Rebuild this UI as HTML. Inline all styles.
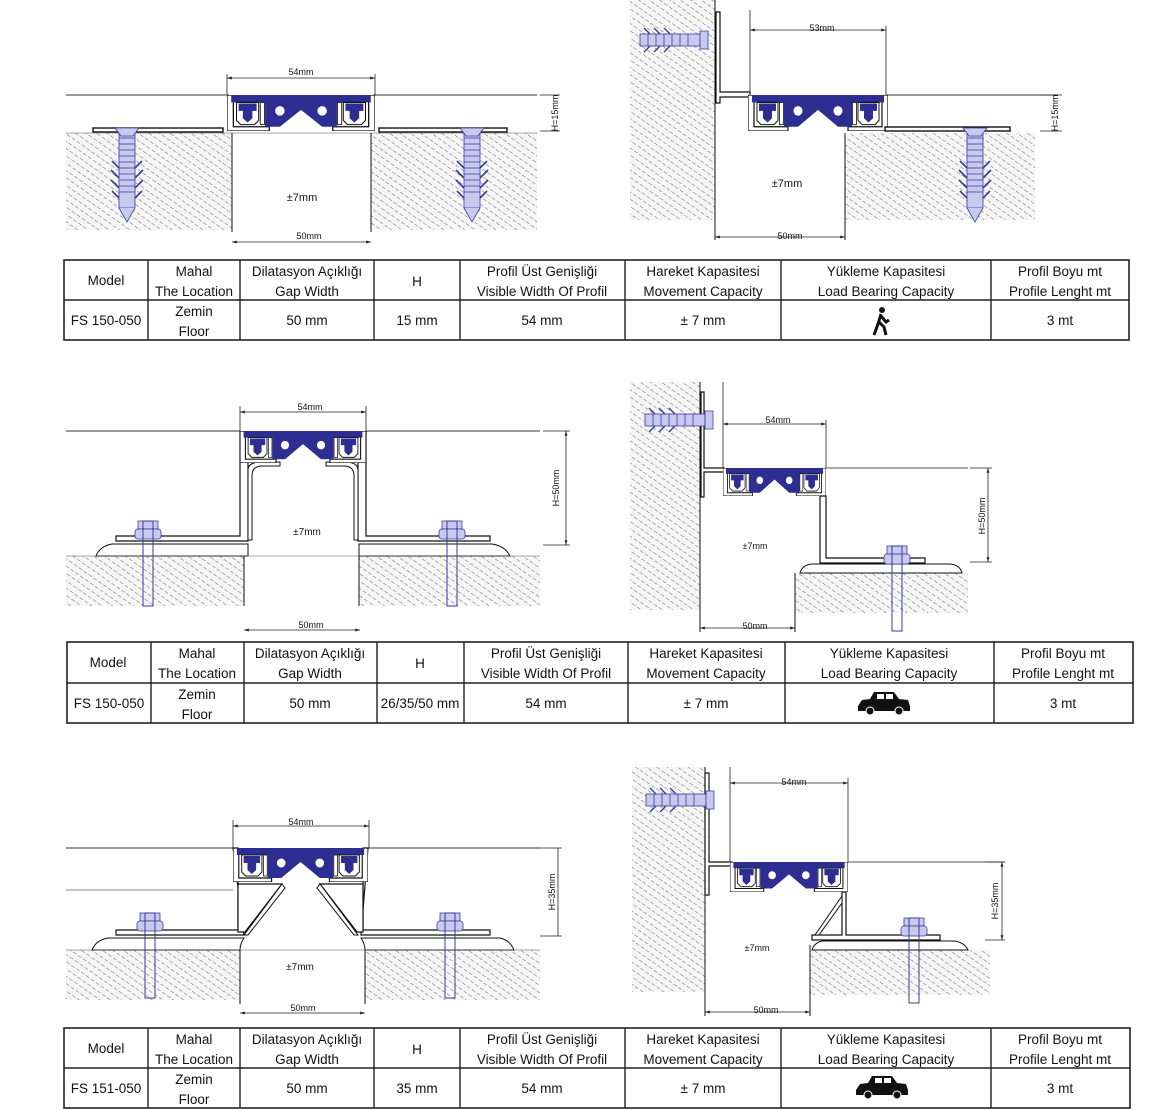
<!DOCTYPE html>
<html><head><meta charset="utf-8"><style>
html,body{margin:0;padding:0;background:#fff;}
svg{display:block;}
.t{font-family:"Liberation Sans",sans-serif;fill:#111;}
.tb{font-family:"Liberation Sans",sans-serif;fill:#111;font-size:13.5px;text-anchor:middle;}
.d{font-family:"Liberation Sans",sans-serif;fill:#111;font-size:9px;text-anchor:middle;}
.dim{stroke:#222;stroke-width:0.8;fill:none;}
.ol{stroke:#111;stroke-width:1.4;fill:#fff;}
.bl{fill:#2d2d92;}
.sc{fill:#c9c9ee;stroke:#3a3aa0;stroke-width:0.8;}
</style></head><body>
<svg width="1165" height="1110" viewBox="0 0 1165 1110" xmlns="http://www.w3.org/2000/svg">
<defs>
<pattern id="h" width="6" height="6" patternUnits="userSpaceOnUse" patternTransform="rotate(-55)">
<rect width="6" height="6" fill="#f6f6f6"/>
<line x1="0" y1="0" x2="0" y2="4" stroke="#555" stroke-width="0.9"/>
</pattern>
<symbol id="prof" viewBox="0 0 140 34" preserveAspectRatio="none">
<path d="M0,0 L140,0 L140,34 L100,34 L100,30 L134,30 L134,6 L6,6 L6,30 L40,30 L40,34 L0,34 Z" fill="#fff" stroke="#111" stroke-width="1.2"/>
<rect x="4" y="0" width="132" height="7" class="bl"/>
<path d="M36,6 L104,6 L104,30 L90,30 L70,14 L50,30 L36,30 Z" class="bl"/>
<circle cx="50" cy="15" r="4.5" fill="#fff"/><circle cx="90" cy="15" r="4.5" fill="#fff"/>
<path d="M9,7 L30,7 L30,24 L26,28 L13,28 L9,24 Z" fill="#fff" stroke="#111" stroke-width="1"/>
<path d="M11,8 L28,8 L28,15 L24,15 L24,22 L19.5,26 L15,22 L15,15 L11,15 Z" class="bl"/>
<path d="M110,7 L131,7 L131,24 L127,28 L114,28 L110,24 Z" fill="#fff" stroke="#111" stroke-width="1"/>
<path d="M112,8 L129,8 L129,15 L125,15 L125,22 L120.5,26 L116,22 L116,15 L112,15 Z" class="bl"/>
<rect x="31.5" y="7" width="4" height="21" fill="#fff" stroke="#111" stroke-width="0.8"/>
<rect x="104.5" y="7" width="4" height="21" fill="#fff" stroke="#111" stroke-width="0.8"/>
</symbol>
<g id="anchorV">
<rect x="-8" y="0" width="16" height="80" class="sc"/>
<path d="M-8,10 h16 M-8,16 h16 M-8,22 h16 M-8,28 h16 M-8,34 h16 M-8,40 h16 M-8,46 h16 M-8,52 h16 M-8,58 h16 M-8,64 h16" stroke="#3a3aa0" stroke-width="0.8"/>
<path d="M-12,0 L12,0 L6,8 L-6,8 Z" class="sc"/>
<path d="M-8,40 l-7,-7 M-8,50 l-8,-8 M-8,60 l-8,-8 M-8,70 l-7,-7 M8,40 l7,-7 M8,50 l8,-8 M8,60 l8,-8 M8,70 l7,-7" stroke="#3a3aa0" stroke-width="1.6"/>
<path d="M-8,80 L0,94 L8,80" class="sc"/>
</g>
<g id="bolt">
<rect x="-10" y="0" width="20" height="8" class="sc"/>
<rect x="-13" y="8" width="26" height="10" rx="3" class="sc"/>
<rect x="-5" y="0" width="10" height="85" fill="none" stroke="#3a3aa0" stroke-width="1"/>
</g>
<g id="anchorH">
<rect x="0" y="-6" width="60" height="12" class="sc"/>
<path d="M8,-6 v12 M16,-6 v12 M24,-6 v12 M32,-6 v12 M40,-6 v12 M48,-6 v12" stroke="#3a3aa0" stroke-width="0.8"/>
<path d="M60,-9 L68,-9 L68,9 L60,9 Z" class="sc"/>
<path d="M10,-6 l-6,-6 M20,-6 l-6,-6 M30,-6 l-6,-6 M10,6 l-6,6 M20,6 l-6,6 M30,6 l-6,6" stroke="#3a3aa0" stroke-width="1.4"/>
</g>
<marker id="a" viewBox="0 0 10 10" refX="10" refY="5" markerWidth="6" markerHeight="6" orient="auto-start-reverse"><path d="M0,2 L10,5 L0,8 Z" fill="#222"/></marker>
<g id="car"><path d="M0,14 L4,8 L12,7 L16,0 L36,0 L41,7 L50,8 L52,14 L52,19 L0,19 Z" fill="#111"/><rect x="19" y="2" width="7" height="5" fill="#fff"/><rect x="28" y="2" width="7" height="5" fill="#fff"/><circle cx="12" cy="19" r="4" fill="#111" stroke="#fff"/><circle cx="41" cy="19" r="4" fill="#111" stroke="#fff"/></g>
</defs>

<!-- ===== Drawing 1 ===== -->
<rect x="66" y="133" width="166" height="97" fill="url(#h)"/>
<rect x="371" y="133" width="166" height="97" fill="url(#h)"/>
<line x1="232" y1="133" x2="232" y2="232" stroke="#111"/><line x1="371" y1="133" x2="371" y2="232" stroke="#111"/>
<line x1="66" y1="95" x2="229" y2="95" stroke="#333"/><line x1="373" y1="95" x2="537" y2="95" stroke="#333"/>
<line x1="66" y1="133" x2="537" y2="133" stroke="#555" stroke-width="0.6"/>
<rect x="93" y="128" width="130" height="4" class="ol"/>
<rect x="379" y="128" width="128" height="4" class="ol"/>
<use href="#prof" x="227" y="95" width="148" height="36"/>
<use href="#anchorV" x="127" y="128"/><use href="#anchorV" x="472" y="128"/>
<line x1="227" y1="78" x2="375" y2="78" class="dim" marker-start="url(#a)" marker-end="url(#a)"/>
<line x1="227" y1="74" x2="227" y2="95" class="dim"/><line x1="375" y1="74" x2="375" y2="95" class="dim"/>
<text class="d" x="301" y="75">54mm</text>
<line x1="232" y1="242" x2="371" y2="242" class="dim" marker-start="url(#a)" marker-end="url(#a)"/>
<text class="d" x="309" y="239">50mm</text>
<text class="t" x="302" y="201" font-size="11" text-anchor="middle">±7mm</text>
<line x1="540" y1="95" x2="560" y2="95" class="dim"/><line x1="540" y1="131" x2="560" y2="131" class="dim"/>
<text class="d" transform="translate(558,113) rotate(-90)">H=15mm</text>

<!-- ===== Drawing 2 ===== -->
<rect x="630" y="0" width="85" height="220" fill="url(#h)"/>
<line x1="715" y1="0" x2="715" y2="240" stroke="#111"/>
<rect x="845" y="133" width="190" height="87" fill="url(#h)"/>
<line x1="845" y1="133" x2="845" y2="240" stroke="#111"/>
<path d="M716,12 L720,12 L720,92 L750,92 L750,97 L720,97 L720,103 L716,103 Z" fill="#fff" stroke="#111" stroke-width="1.2"/>
<use href="#anchorH" x="640" y="40"/>
<line x1="750" y1="10" x2="750" y2="95" class="dim"/>
<line x1="886" y1="95" x2="1058" y2="95" stroke="#333"/>
<use href="#prof" x="748" y="95" width="140" height="36"/>
<rect x="885" y="127" width="125" height="4" class="ol"/>
<use href="#anchorV" x="975" y="128"/>
<line x1="750" y1="30" x2="886" y2="30" class="dim" marker-start="url(#a)" marker-end="url(#a)"/>
<line x1="886" y1="26" x2="886" y2="95" class="dim"/>
<text class="d" x="822" y="31">53mm</text>
<line x1="715" y1="237" x2="845" y2="237" class="dim" marker-start="url(#a)" marker-end="url(#a)"/>
<text class="d" x="790" y="239">50mm</text>
<text class="t" x="787" y="187" font-size="11" text-anchor="middle">±7mm</text>
<line x1="1040" y1="95" x2="1062" y2="95" class="dim"/><line x1="1040" y1="131" x2="1062" y2="131" class="dim"/>
<text class="d" transform="translate(1058,113) rotate(-90)">H=15mm</text>

<!-- Table 1 -->
<g>
<rect x="64" y="260" width="1065" height="80" fill="none" stroke="#222" stroke-width="1.6"/>
<line x1="64" y1="300" x2="1129" y2="300" stroke="#222" stroke-width="1.4"/>
<path d="M148,260V340M240,260V340M374,260V340M460,260V340M625,260V340M781,260V340M991,260V340" stroke="#222" stroke-width="1.4"/>
<text class="tb" x="106" y="285">Model</text>
<text class="tb" x="194" y="276">Mahal</text><text class="tb" x="194" y="296">The Location</text>
<text class="tb" x="307" y="276">Dilatasyon Açıklığı</text><text class="tb" x="307" y="296">Gap Width</text>
<text class="tb" x="417" y="286">H</text>
<text class="tb" x="542" y="276">Profil Üst Genişliği</text><text class="tb" x="542" y="296">Visible Width Of Profil</text>
<text class="tb" x="703" y="276">Hareket Kapasitesi</text><text class="tb" x="703" y="296">Movement Capacity</text>
<text class="tb" x="886" y="276">Yükleme Kapasitesi</text><text class="tb" x="886" y="296">Load Bearing Capacity</text>
<text class="tb" x="1060" y="276">Profil Boyu mt</text><text class="tb" x="1060" y="296">Profile Lenght mt</text>
<text class="tb" x="106" y="325">FS 150-050</text>
<text class="tb" x="194" y="316">Zemin</text><text class="tb" x="194" y="336">Floor</text>
<text class="tb" x="307" y="325">50 mm</text><text class="tb" x="417" y="325">15 mm</text>
<text class="tb" x="542" y="325">54 mm</text><text class="tb" x="703" y="325">± 7 mm</text>
<text class="tb" x="1060" y="325">3 mt</text>
<g fill="#111" stroke="#111"><circle cx="882" cy="310" r="3" stroke="none"/><path d="M881,314 L878,324 L874,335 M879,322 L884,327 L886,335 M881,316 L886,322 L889,320" stroke-width="3" fill="none"/></g>
</g>

<!-- ===== Drawing 3 ===== -->
<rect x="66" y="556" width="178" height="50" fill="url(#h)"/>
<rect x="359" y="556" width="181" height="50" fill="url(#h)"/>
<line x1="244" y1="548" x2="244" y2="606" stroke="#111"/><line x1="359" y1="548" x2="359" y2="606" stroke="#111"/>
<path d="M96,556 Q100,546 112,544 L248,544 L248,556 Z M359,556 L359,544 L492,544 Q505,546 510,556 Z" fill="#fff" stroke="#111"/>
<line x1="66" y1="556" x2="540" y2="556" stroke="#555" stroke-width="0.6"/>
<line x1="66" y1="431" x2="240" y2="431" stroke="#333"/><line x1="366" y1="431" x2="540" y2="431" stroke="#333"/>
<path d="M240,431 L240,536 L116,536 L116,541 L248,541 L248,462 L240,462 Z" fill="#fff" stroke="#111" stroke-width="1.2"/>
<path d="M366,431 L366,536 L490,536 L490,541 L358,541 L358,462 L366,462 Z" fill="#fff" stroke="#111" stroke-width="1.2"/>
<path d="M248,470 Q248,462 262,462 L280,462 L280,466 L262,466 Q252,466 252,476 L252,540 L248,540 Z" fill="#fff" stroke="#111"/>
<path d="M358,470 Q358,462 344,462 L326,462 L326,466 L344,466 Q354,466 354,476 L354,540 L358,540 Z" fill="#fff" stroke="#111"/>
<use href="#prof" x="240" y="431" width="126" height="32"/>
<use href="#bolt" x="148" y="521"/><use href="#bolt" x="452" y="521"/>
<line x1="240" y1="412" x2="366" y2="412" class="dim" marker-start="url(#a)" marker-end="url(#a)"/>
<line x1="240" y1="406" x2="240" y2="431" class="dim"/><line x1="366" y1="406" x2="366" y2="431" class="dim"/>
<text class="d" x="310" y="410">54mm</text>
<line x1="244" y1="630" x2="360" y2="630" class="dim" marker-start="url(#a)" marker-end="url(#a)"/>
<text class="d" x="311" y="628">50mm</text>
<text class="t" x="307" y="535" font-size="10" text-anchor="middle">±7mm</text>
<line x1="543" y1="431" x2="570" y2="431" class="dim"/><line x1="543" y1="545" x2="570" y2="545" class="dim"/>
<line x1="566" y1="431" x2="566" y2="545" class="dim" marker-start="url(#a)" marker-end="url(#a)"/>
<text class="d" transform="translate(559,488) rotate(-90)">H=50mm</text>

<!-- ===== Drawing 4 ===== -->
<rect x="630" y="382" width="70" height="228" fill="url(#h)"/>
<line x1="700" y1="382" x2="700" y2="632" stroke="#111"/>
<rect x="795" y="573" width="173" height="40" fill="url(#h)"/>
<line x1="795" y1="573" x2="795" y2="632" stroke="#111"/>
<path d="M800,573 Q802,565 812,564 L950,564 Q960,565 962,573 Z" fill="#fff" stroke="#111"/>
<path d="M701,392 L704,392 L704,468 L724,468 L724,472 L704,472 L704,497 L701,497 Z" fill="#fff" stroke="#111" stroke-width="1.2"/>
<use href="#anchorH" x="645" y="420"/>
<line x1="723" y1="382" x2="723" y2="468" class="dim"/>
<use href="#prof" x="723" y="468" width="103" height="28"/>
<path d="M820,496 L826,496 L826,558 L925,558 L925,563 L820,563 Z" fill="#fff" stroke="#111" stroke-width="1.2"/>
<line x1="826" y1="468" x2="968" y2="468" stroke="#555"/>
<use href="#bolt" x="897" y="546"/>
<line x1="723" y1="424" x2="826" y2="424" class="dim" marker-start="url(#a)" marker-end="url(#a)"/>
<line x1="826" y1="420" x2="826" y2="468" class="dim"/>
<text class="d" x="778" y="423">54mm</text>
<line x1="700" y1="628" x2="795" y2="628" class="dim" marker-start="url(#a)" marker-end="url(#a)"/>
<text class="d" x="755" y="629">50mm</text>
<text class="t" x="755" y="549" font-size="9" text-anchor="middle">±7mm</text>
<line x1="970" y1="468" x2="992" y2="468" class="dim"/><line x1="970" y1="562" x2="992" y2="562" class="dim"/>
<line x1="988" y1="468" x2="988" y2="562" class="dim" marker-start="url(#a)" marker-end="url(#a)"/>
<text class="d" transform="translate(985,516) rotate(-90)">H=50mm</text>

<!-- Table 2 -->
<g>
<rect x="67" y="642" width="1066" height="81" fill="none" stroke="#222" stroke-width="1.6"/>
<line x1="67" y1="683" x2="1133" y2="683" stroke="#222" stroke-width="1.4"/>
<path d="M151,642V723M244,642V723M377,642V723M464,642V723M628,642V723M785,642V723M994,642V723" stroke="#222" stroke-width="1.4"/>
<text class="tb" x="108" y="667">Model</text>
<text class="tb" x="197" y="658">Mahal</text><text class="tb" x="197" y="678">The Location</text>
<text class="tb" x="310" y="658">Dilatasyon Açıklığı</text><text class="tb" x="310" y="678">Gap Width</text>
<text class="tb" x="420" y="668">H</text>
<text class="tb" x="546" y="658">Profil Üst Genişliği</text><text class="tb" x="546" y="678">Visible Width Of Profil</text>
<text class="tb" x="706" y="658">Hareket Kapasitesi</text><text class="tb" x="706" y="678">Movement Capacity</text>
<text class="tb" x="889" y="658">Yükleme Kapasitesi</text><text class="tb" x="889" y="678">Load Bearing Capacity</text>
<text class="tb" x="1063" y="658">Profil Boyu mt</text><text class="tb" x="1063" y="678">Profile Lenght mt</text>
<text class="tb" x="109" y="708">FS 150-050</text>
<text class="tb" x="197" y="699">Zemin</text><text class="tb" x="197" y="719">Floor</text>
<text class="tb" x="310" y="708">50 mm</text><text class="tb" x="420" y="708" font-size="12.5">26/35/50 mm</text>
<text class="tb" x="546" y="708">54 mm</text><text class="tb" x="706" y="708">± 7 mm</text>
<text class="tb" x="1063" y="708">3 mt</text>
<use href="#car" x="858" y="692"/>
</g>

<!-- ===== Drawing 5 ===== -->
<rect x="66" y="950" width="174" height="50" fill="url(#h)"/>
<rect x="365" y="950" width="175" height="50" fill="url(#h)"/>
<line x1="240" y1="940" x2="240" y2="1004" stroke="#111"/><line x1="365" y1="940" x2="365" y2="1004" stroke="#111"/>
<path d="M92,950 Q96,940 108,938 L244,938 Q240,944 240,950 Z M365,950 Q365,944 361,938 L500,938 Q510,940 514,950 Z" fill="#fff" stroke="#111"/>
<line x1="66" y1="950" x2="540" y2="950" stroke="#555" stroke-width="0.6"/>
<line x1="66" y1="848" x2="233" y2="848" stroke="#333"/><line x1="368" y1="848" x2="540" y2="848" stroke="#333"/>
<line x1="66" y1="890" x2="233" y2="890" stroke="#888"/>
<path d="M233,848 L238,848 L238,930 L116,930 L116,935 L244,935 Z" fill="#fff" stroke="#111" stroke-width="1.2"/>
<path d="M238,884 L282,884 L245,932 L238,932 Z" fill="#fff" stroke="#111" stroke-width="1.2"/>
<path d="M282,884 L285,888 L248,935 L244,935 Z" fill="#fff" stroke="#111"/>
<path d="M368,848 L363,848 L363,930 L490,930 L490,935 L361,935 Z" fill="#fff" stroke="#111" stroke-width="1.2"/>
<path d="M363,884 L320,884 L357,932 L363,932 Z" fill="#fff" stroke="#111" stroke-width="1.2"/>
<path d="M320,884 L317,888 L354,935 L358,935 Z" fill="#fff" stroke="#111"/>
<use href="#prof" x="233" y="848" width="135" height="34"/>
<use href="#bolt" x="150" y="913"/><use href="#bolt" x="450" y="913"/>
<line x1="233" y1="826" x2="369" y2="826" class="dim" marker-start="url(#a)" marker-end="url(#a)"/>
<line x1="233" y1="820" x2="233" y2="848" class="dim"/><line x1="369" y1="820" x2="369" y2="848" class="dim"/>
<text class="d" x="301" y="825">54mm</text>
<line x1="240" y1="1013" x2="365" y2="1013" class="dim" marker-start="url(#a)" marker-end="url(#a)"/>
<text class="d" x="303" y="1011">50mm</text>
<text class="t" x="300" y="970" font-size="10" text-anchor="middle">±7mm</text>
<line x1="540" y1="848" x2="562" y2="848" class="dim"/><line x1="540" y1="936" x2="562" y2="936" class="dim"/>
<line x1="558" y1="848" x2="558" y2="936" class="dim"/>
<text class="d" transform="translate(555,892) rotate(-90)">H=35mm</text>

<!-- ===== Drawing 6 ===== -->
<rect x="632" y="767" width="73" height="225" fill="url(#h)"/>
<line x1="705" y1="767" x2="705" y2="1016" stroke="#111"/>
<rect x="810" y="950" width="180" height="45" fill="url(#h)"/>
<line x1="810" y1="945" x2="810" y2="1016" stroke="#111"/>
<path d="M812,950 Q814,943 822,941 L955,941 Q965,943 968,950 Z" fill="#fff" stroke="#111"/>
<path d="M705,773 L709,773 L709,862 L732,862 L732,866 L709,866 L709,895 L705,895 Z" fill="#fff" stroke="#111" stroke-width="1.2"/>
<use href="#anchorH" x="646" y="800"/>
<line x1="730" y1="767" x2="730" y2="862" class="dim"/>
<use href="#prof" x="730" y="862" width="118" height="30"/>
<path d="M842,892 L846,892 L846,935 L940,935 L940,940 L812,940 L812,935 L842,935 Z" fill="#fff" stroke="#111" stroke-width="1.2"/>
<path d="M842,896 L815,935 L819,935 L842,903 Z" fill="#fff" stroke="#111"/>
<line x1="848" y1="862" x2="1005" y2="862" stroke="#555"/>
<use href="#bolt" x="914" y="918"/>
<line x1="730" y1="783" x2="848" y2="783" class="dim" marker-start="url(#a)" marker-end="url(#a)"/>
<line x1="848" y1="778" x2="848" y2="862" class="dim"/>
<text class="d" x="794" y="785">54mm</text>
<line x1="705" y1="1012" x2="810" y2="1012" class="dim" marker-start="url(#a)" marker-end="url(#a)"/>
<text class="d" x="766" y="1013">50mm</text>
<text class="t" x="757" y="951" font-size="9" text-anchor="middle">±7mm</text>
<line x1="985" y1="862" x2="1005" y2="862" class="dim"/><line x1="985" y1="940" x2="1005" y2="940" class="dim"/>
<line x1="1002" y1="862" x2="1002" y2="940" class="dim" marker-start="url(#a)" marker-end="url(#a)"/>
<text class="d" transform="translate(998,901) rotate(-90)">H=35mm</text>

<!-- Table 3 -->
<g>
<rect x="64" y="1028" width="1066" height="80" fill="none" stroke="#222" stroke-width="1.6"/>
<line x1="64" y1="1068" x2="1130" y2="1068" stroke="#222" stroke-width="1.4"/>
<path d="M148,1028V1108M240,1028V1108M374,1028V1108M460,1028V1108M625,1028V1108M781,1028V1108M991,1028V1108" stroke="#222" stroke-width="1.4"/>
<text class="tb" x="106" y="1053">Model</text>
<text class="tb" x="194" y="1044">Mahal</text><text class="tb" x="194" y="1064">The Location</text>
<text class="tb" x="307" y="1044">Dilatasyon Açıklığı</text><text class="tb" x="307" y="1064">Gap Width</text>
<text class="tb" x="417" y="1054">H</text>
<text class="tb" x="542" y="1044">Profil Üst Genişliği</text><text class="tb" x="542" y="1064">Visible Width Of Profil</text>
<text class="tb" x="703" y="1044">Hareket Kapasitesi</text><text class="tb" x="703" y="1064">Movement Capacity</text>
<text class="tb" x="886" y="1044">Yükleme Kapasitesi</text><text class="tb" x="886" y="1064">Load Bearing Capacity</text>
<text class="tb" x="1060" y="1044">Profil Boyu mt</text><text class="tb" x="1060" y="1064">Profile Lenght mt</text>
<text class="tb" x="106" y="1093">FS 151-050</text>
<text class="tb" x="194" y="1084">Zemin</text><text class="tb" x="194" y="1104">Floor</text>
<text class="tb" x="307" y="1093">50 mm</text><text class="tb" x="417" y="1093">35 mm</text>
<text class="tb" x="542" y="1093">54 mm</text><text class="tb" x="703" y="1093">± 7 mm</text>
<text class="tb" x="1060" y="1093">3 mt</text>
<use href="#car" x="856" y="1076"/>
</g>
</svg>
</body></html>
